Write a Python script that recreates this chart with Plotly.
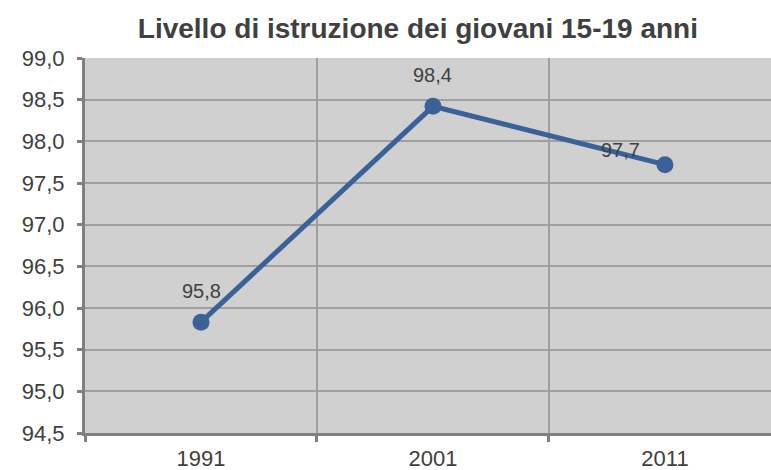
import plotly.graph_objects as go

anni = ["1991", "2001", "2011"]
valori = [95.83, 98.42, 97.72]
etichette = ["95,8", "98,4", "97,7"]
tick_y = [94.5, 95.0, 95.5, 96.0, 96.5, 97.0, 97.5, 98.0, 98.5, 99.0]

fig = go.Figure()

fig.add_trace(go.Scatter(
    x=anni, y=valori,
    mode="lines+markers",
    line=dict(color="#3a6298", width=5),
    marker=dict(color="#3a6298", size=17),
    hoverinfo="skip",
))

# data labels, placed like the original (last one sits on the line)
shifts = [(0, 31), (0, 31), (-44, 15)]
for i, (v, t, (dx, dy)) in enumerate(zip(valori, etichette, shifts)):
    fig.add_annotation(x=i, y=v, text=t, showarrow=False,
                       xref="x", yref="y",
                       xshift=dx, yshift=dy,
                       font=dict(family="Liberation Sans, Arial", size=20, color="#404040"))

fig.update_layout(
    width=771, height=470,
    separators=",.",
    paper_bgcolor="white",
    plot_bgcolor="#d0d0d0",
    margin=dict(l=85, r=0, t=58, b=37, autoexpand=False),
    showlegend=False,
    title=dict(
        text="<b>Livello di istruzione dei giovani 15-19 anni</b>",
        x=0.542, xanchor="center", y=0.94, yanchor="middle",
        font=dict(family="Liberation Sans, Arial", size=28, color="#404040"),
    ),
    xaxis=dict(
        type="category",
        range=[-0.5, 2.457],
        tickson="boundaries",
        automargin=False,
        ticks="outside", ticklen=6, tickwidth=3, tickcolor="#808080",
        ticklabelstandoff=4,
        showgrid=True, gridcolor="#a0a0a0", gridwidth=1.5,
        showline=True, linecolor="#808080", linewidth=3,
        tickfont=dict(family="Liberation Sans, Arial", size=22, color="#404040"),
    ),
    yaxis=dict(
        range=[94.5, 99.0],
        tickvals=tick_y,
        tickformat=".1f",
        automargin=False,
        ticks="outside", ticklen=5, tickwidth=3, tickcolor="#808080",
        ticklabelstandoff=8,
        showgrid=True, gridcolor="#a0a0a0", gridwidth=1.5,
        showline=True, linecolor="#808080", linewidth=3,
        zeroline=False,
        tickfont=dict(family="Liberation Sans, Arial", size=22, color="#404040"),
    ),
)

fig.write_html("out.html", config={"displayModeBar": False},
               post_script="document.body.style.margin='0';")
